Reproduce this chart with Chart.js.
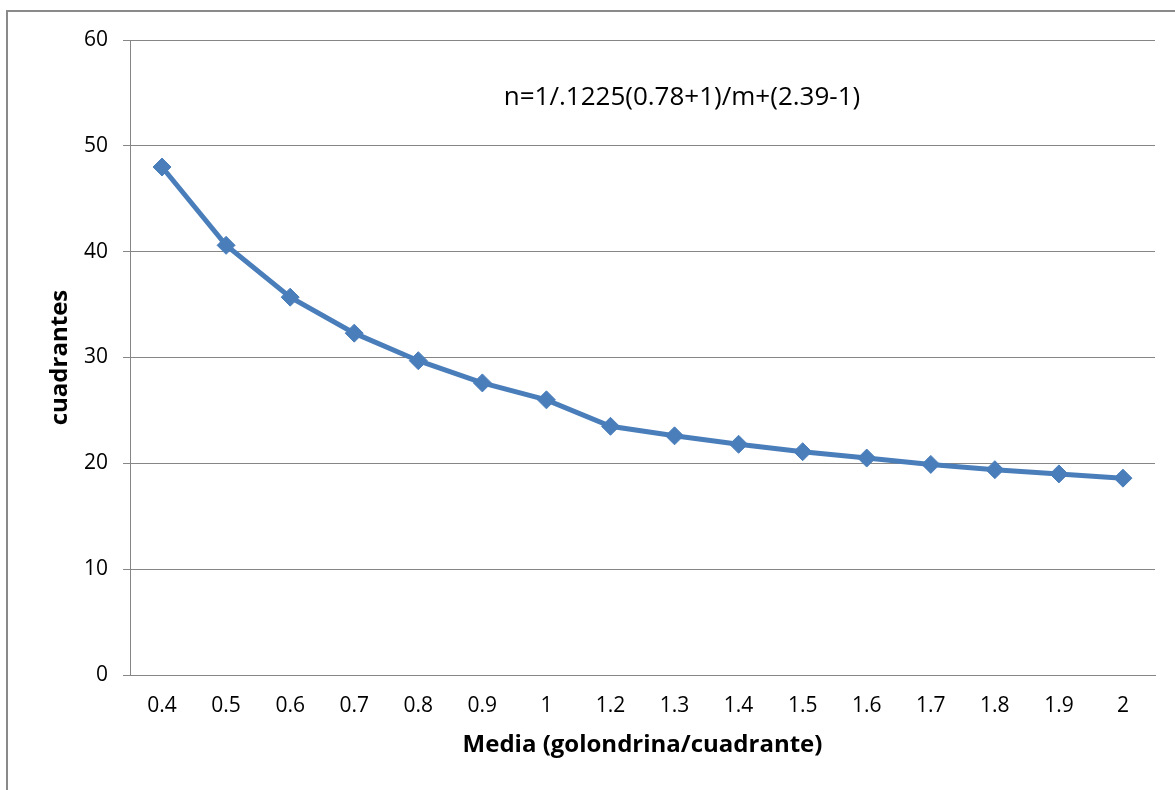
<!DOCTYPE html>
<html>
<head>
<meta charset="utf-8">
<script src="https://cdn.jsdelivr.net/npm/chart.js@4/dist/chart.umd.min.js"></script>
<style>
  html, body { margin: 0; padding: 0; background: #fff; width: 1175px; height: 790px; overflow: hidden; }
  #frame { position: absolute; left: 6px; top: 10px; width: 1200px; height: 800px; border: 2px solid #8a8a8a; box-sizing: border-box; }
  #c { position: absolute; left: 0; top: 0; }
  #eq { position: absolute; left: 0; width: 1364px; top: 77px; text-align: center; font-family: "Open Sans", "Liberation Sans", sans-serif; font-size: 26px; color: #000; white-space: nowrap; }
</style>
</head>
<body>
<div id="frame"></div>
<canvas id="c" width="1175" height="790"></canvas>
<div id="eq">n=1/.1225(0.78+1)/m+(2.39-1)</div>
<script>
const categories = ["0.4","0.5","0.6","0.7","0.8","0.9","1","1.2","1.3","1.4","1.5","1.6","1.7","1.8","1.9","2"];
const cuadrantes = [48.0, 40.6, 35.7, 32.3, 29.7, 27.6, 26.0, 23.5, 22.6, 21.8, 21.1, 20.5, 19.9, 19.4, 19.0, 18.6];
const yTicks = [0, 10, 20, 30, 40, 50, 60];
const xTitle = "Media (golondrina/cuadrante)";
const yTitle = "cuadrantes";

const FONT = "'Open Sans', 'Liberation Sans', sans-serif";
const GRID = "#868686";

new Chart(document.getElementById('c'), {
  type: 'line',
  data: {
    labels: categories,
    datasets: [{
      data: cuadrantes,
      borderColor: '#4A7EBB',
      backgroundColor: '#4A7EBB',
      borderWidth: 5,
      pointStyle: 'rectRot',
      pointRadius: 9,
      pointBorderWidth: 1,
      pointBackgroundColor: '#4A7EBB',
      pointBorderColor: '#4A7EBB',
      tension: 0,
      fill: false
    }]
  },
  options: {
    responsive: false,
    animation: false,
    events: [],
    layout: { padding: { left: 0, right: 20, top: 40, bottom: 0 } },
    plugins: { legend: { display: false }, tooltip: { enabled: false } },
    scales: {
      x: {
        type: 'category',
        offset: true,
        grid: { display: false },
        border: { display: true, color: GRID, width: 1 },
        ticks: { color: '#000', font: { family: FONT, size: 21 }, padding: 10, maxRotation: 0, autoSkip: false },
        title: { display: true, text: xTitle, color: '#000', font: { family: FONT, size: 24, weight: 'bold' }, padding: { top: 0, bottom: 30.6 } },
        afterFit(s) { s.height = 115; }
      },
      y: {
        min: 0, max: 60,
        afterBuildTicks(s) { s.ticks = yTicks.map(v => ({ value: v })); },
        grid: { color: GRID, lineWidth: 1, tickLength: 7, drawTicks: true },
        border: { display: true, color: GRID, width: 1 },
        ticks: { color: '#000', font: { family: FONT, size: 21 }, padding: 15 },
        title: { display: true, text: yTitle, color: '#000', font: { family: FONT, size: 24, weight: 'bold' }, padding: { top: 45.6, bottom: 0 } },
        afterFit(s) { s.width = 130; }
      }
    }
  }
});
</script>
</body>
</html>
